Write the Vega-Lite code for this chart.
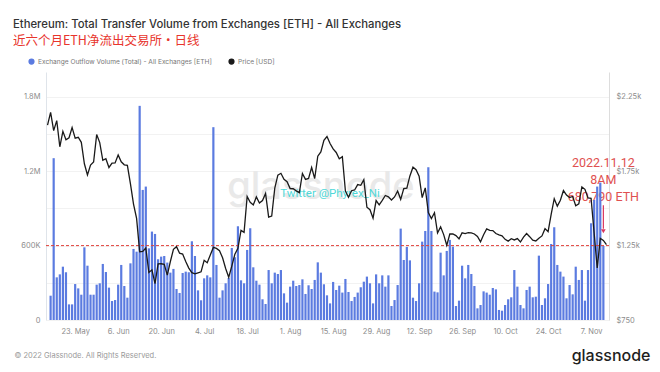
{
  "$schema": "https://vega.github.io/schema/vega-lite/v6.json",
  "width": 563,
  "height": 248,
  "autosize": {"type": "none"},
  "padding": {"left": 46, "top": 72, "right": 51, "bottom": 52},
  "background": "white",
  "config": {
    "view": {"stroke": null},
    "font": "Inter",
    "axis": {"labelFont": "Inter", "labelFontSize": 7.5, "labelColor": "#8c8c8c", "ticks": false, "gridColor": "#efefef", "gridWidth": 0.8, "domain": false},
    "legend": {"orient": "none", "legendX": -18, "legendY": -14, "direction": "horizontal", "symbolType": "circle", "symbolSize": 22, "labelFont": "Inter", "labelFontSize": 6.6, "labelColor": "#777777", "labelLimit": 0, "columnPadding": 14, "labelOffset": 3}
  },
  "title": {
    "text": "Ethereum: Total Transfer Volume from Exchanges [ETH] - All Exchanges",
    "subtitle": "近六个月ETH净流出交易所·日线",
    "anchor": "start",
    "frame": "group",
    "dx": -33,
    "offset": 11,
    "font": "Inter",
    "fontSize": 11.3,
    "fontWeight": 500,
    "color": "#333333",
    "subtitleFont": "Noto Sans CJK SC",
    "subtitleFontSize": 12.5,
    "subtitleColor": "#e8342c",
    "subtitlePadding": 4
  },
  "datasets": {
    "main": [
      {"d":"2022-05-14","p":2059},
      {"d":"2022-05-15","p":2145,"v":196000},
      {"d":"2022-05-16","p":2023,"v":1305000},
      {"d":"2022-05-17","p":2090,"v":344000},
      {"d":"2022-05-18","p":1914,"v":368000},
      {"d":"2022-05-19","p":2018,"v":430000},
      {"d":"2022-05-20","p":1961,"v":385000},
      {"d":"2022-05-21","p":1975,"v":126000},
      {"d":"2022-05-22","p":2043,"v":126000},
      {"d":"2022-05-23","p":1972,"v":290000},
      {"d":"2022-05-24","p":1978,"v":255000},
      {"d":"2022-05-25","p":1944,"v":204000},
      {"d":"2022-05-26","p":1800,"v":586000},
      {"d":"2022-05-27","p":1725,"v":438000},
      {"d":"2022-05-28","p":1791,"v":204000},
      {"d":"2022-05-29","p":1812,"v":204000},
      {"d":"2022-05-30","p":1996,"v":285000},
      {"d":"2022-05-31","p":1942,"v":296000},
      {"d":"2022-06-01","p":1823,"v":452000},
      {"d":"2022-06-02","p":1834,"v":387000},
      {"d":"2022-06-03","p":1775,"v":261000},
      {"d":"2022-06-04","p":1805,"v":153000},
      {"d":"2022-06-05","p":1806,"v":161000},
      {"d":"2022-06-06","p":1859,"v":285000},
      {"d":"2022-06-07","p":1813,"v":444000},
      {"d":"2022-06-08","p":1793,"v":274000},
      {"d":"2022-06-09","p":1789,"v":180000},
      {"d":"2022-06-10","p":1665,"v":457000},
      {"d":"2022-06-11","p":1529,"v":573000},
      {"d":"2022-06-12","p":1433,"v":551000},
      {"d":"2022-06-13","p":1208,"v":1727000},
      {"d":"2022-06-14","p":1211,"v":1049000},
      {"d":"2022-06-15","p":1234,"v":1076000},
      {"d":"2022-06-16","p":1070,"v":578000},
      {"d":"2022-06-17","p":1087,"v":713000},
      {"d":"2022-06-18","p":995,"v":694000},
      {"d":"2022-06-19","p":1127,"v":490000},
      {"d":"2022-06-20","p":1128,"v":511000},
      {"d":"2022-06-21","p":1124,"v":516000},
      {"d":"2022-06-22","p":1052,"v":463000},
      {"d":"2022-06-23","p":1143,"v":382000},
      {"d":"2022-06-24","p":1225,"v":412000},
      {"d":"2022-06-25","p":1243,"v":250000},
      {"d":"2022-06-26","p":1199,"v":218000},
      {"d":"2022-06-27","p":1193,"v":379000},
      {"d":"2022-06-28","p":1143,"v":390000},
      {"d":"2022-06-29","p":1099,"v":385000},
      {"d":"2022-06-30","p":1068,"v":635000},
      {"d":"2022-07-01","p":1060,"v":516000},
      {"d":"2022-07-02","p":1067,"v":239000},
      {"d":"2022-07-03","p":1074,"v":159000},
      {"d":"2022-07-04","p":1151,"v":336000},
      {"d":"2022-07-05","p":1135,"v":360000},
      {"d":"2022-07-06","p":1187,"v":344000},
      {"d":"2022-07-07","p":1238,"v":1555000},
      {"d":"2022-07-08","p":1231,"v":444000},
      {"d":"2022-07-09","p":1216,"v":180000},
      {"d":"2022-07-10","p":1168,"v":239000},
      {"d":"2022-07-11","p":1096,"v":296000},
      {"d":"2022-07-12","p":1037,"v":339000},
      {"d":"2022-07-13","p":1112,"v":581000},
      {"d":"2022-07-14","p":1192,"v":506000},
      {"d":"2022-07-15","p":1232,"v":756000},
      {"d":"2022-07-16","p":1352,"v":320000},
      {"d":"2022-07-17","p":1339,"v":296000},
      {"d":"2022-07-18","p":1580,"v":565000},
      {"d":"2022-07-19","p":1541,"v":740000},
      {"d":"2022-07-20","p":1523,"v":425000},
      {"d":"2022-07-21","p":1577,"v":317000},
      {"d":"2022-07-22","p":1536,"v":285000},
      {"d":"2022-07-23","p":1553,"v":167000},
      {"d":"2022-07-24","p":1600,"v":129000},
      {"d":"2022-07-25","p":1441,"v":403000},
      {"d":"2022-07-26","p":1449,"v":296000},
      {"d":"2022-07-27","p":1636,"v":382000},
      {"d":"2022-07-28","p":1724,"v":371000},
      {"d":"2022-07-29","p":1736,"v":403000},
      {"d":"2022-07-30","p":1696,"v":215000},
      {"d":"2022-07-31","p":1680,"v":140000},
      {"d":"2022-08-01","p":1633,"v":269000},
      {"d":"2022-08-02","p":1632,"v":317000},
      {"d":"2022-08-03","p":1618,"v":274000},
      {"d":"2022-08-04","p":1606,"v":282000},
      {"d":"2022-08-05","p":1735,"v":328000},
      {"d":"2022-08-06","p":1695,"v":210000},
      {"d":"2022-08-07","p":1701,"v":280000},
      {"d":"2022-08-08","p":1775,"v":250000},
      {"d":"2022-08-09","p":1701,"v":323000},
      {"d":"2022-08-10","p":1851,"v":465000},
      {"d":"2022-08-11","p":1880,"v":382000},
      {"d":"2022-08-12","p":1958,"v":288000},
      {"d":"2022-08-13","p":1983,"v":199000},
      {"d":"2022-08-14","p":1936,"v":134000},
      {"d":"2022-08-15","p":1900,"v":307000},
      {"d":"2022-08-16","p":1876,"v":242000},
      {"d":"2022-08-17","p":1834,"v":277000},
      {"d":"2022-08-18","p":1848,"v":221000},
      {"d":"2022-08-19","p":1617,"v":331000},
      {"d":"2022-08-20","p":1575,"v":226000},
      {"d":"2022-08-21","p":1619,"v":153000},
      {"d":"2022-08-22","p":1624,"v":186000},
      {"d":"2022-08-23","p":1660,"v":221000},
      {"d":"2022-08-24","p":1655,"v":264000},
      {"d":"2022-08-25","p":1693,"v":309000},
      {"d":"2022-08-26","p":1508,"v":350000},
      {"d":"2022-08-27","p":1491,"v":296000},
      {"d":"2022-08-28","p":1434,"v":134000},
      {"d":"2022-08-29","p":1553,"v":368000},
      {"d":"2022-08-30","p":1524,"v":296000},
      {"d":"2022-08-31","p":1554,"v":360000},
      {"d":"2022-09-01","p":1587,"v":269000},
      {"d":"2022-09-02","p":1578,"v":360000},
      {"d":"2022-09-03","p":1556,"v":113000},
      {"d":"2022-09-04","p":1577,"v":161000},
      {"d":"2022-09-05","p":1617,"v":282000},
      {"d":"2022-09-06","p":1561,"v":737000},
      {"d":"2022-09-07","p":1633,"v":484000},
      {"d":"2022-09-08","p":1636,"v":589000},
      {"d":"2022-09-09","p":1718,"v":481000},
      {"d":"2022-09-10","p":1777,"v":180000},
      {"d":"2022-09-11","p":1760,"v":153000},
      {"d":"2022-09-12","p":1717,"v":296000},
      {"d":"2022-09-13","p":1573,"v":632000},
      {"d":"2022-09-14","p":1638,"v":718000},
      {"d":"2022-09-15","p":1472,"v":1232000},
      {"d":"2022-09-16","p":1432,"v":718000},
      {"d":"2022-09-17","p":1471,"v":229000},
      {"d":"2022-09-18","p":1335,"v":223000},
      {"d":"2022-09-19","p":1376,"v":543000},
      {"d":"2022-09-20","p":1324,"v":360000},
      {"d":"2022-09-21","p":1252,"v":557000},
      {"d":"2022-09-22","p":1328,"v":646000},
      {"d":"2022-09-23","p":1328,"v":592000},
      {"d":"2022-09-24","p":1317,"v":113000},
      {"d":"2022-09-25","p":1295,"v":156000},
      {"d":"2022-09-26","p":1336,"v":438000},
      {"d":"2022-09-27","p":1331,"v":336000},
      {"d":"2022-09-28","p":1337,"v":444000},
      {"d":"2022-09-29","p":1335,"v":371000},
      {"d":"2022-09-30","p":1328,"v":274000},
      {"d":"2022-10-01","p":1311,"v":94000},
      {"d":"2022-10-02","p":1276,"v":121000},
      {"d":"2022-10-03","p":1323,"v":231000},
      {"d":"2022-10-04","p":1362,"v":221000},
      {"d":"2022-10-05","p":1352,"v":204000},
      {"d":"2022-10-06","p":1351,"v":258000},
      {"d":"2022-10-07","p":1331,"v":247000},
      {"d":"2022-10-08","p":1322,"v":81000},
      {"d":"2022-10-09","p":1315,"v":75000},
      {"d":"2022-10-10","p":1292,"v":121000},
      {"d":"2022-10-11","p":1280,"v":167000},
      {"d":"2022-10-12","p":1296,"v":183000},
      {"d":"2022-10-13","p":1288,"v":403000},
      {"d":"2022-10-14","p":1297,"v":269000},
      {"d":"2022-10-15","p":1274,"v":121000},
      {"d":"2022-10-16","p":1307,"v":94000},
      {"d":"2022-10-17","p":1331,"v":242000},
      {"d":"2022-10-18","p":1310,"v":269000},
      {"d":"2022-10-19","p":1286,"v":183000},
      {"d":"2022-10-20","p":1281,"v":188000},
      {"d":"2022-10-21","p":1300,"v":519000},
      {"d":"2022-10-22","p":1315,"v":121000},
      {"d":"2022-10-23","p":1364,"v":175000},
      {"d":"2022-10-24","p":1344,"v":290000},
      {"d":"2022-10-25","p":1460,"v":613000},
      {"d":"2022-10-26","p":1565,"v":748000},
      {"d":"2022-10-27","p":1515,"v":444000},
      {"d":"2022-10-28","p":1555,"v":390000},
      {"d":"2022-10-29","p":1620,"v":350000},
      {"d":"2022-10-30","p":1590,"v":175000},
      {"d":"2022-10-31","p":1573,"v":282000},
      {"d":"2022-11-01","p":1580,"v":207000},
      {"d":"2022-11-02","p":1518,"v":430000},
      {"d":"2022-11-03","p":1531,"v":323000},
      {"d":"2022-11-04","p":1644,"v":403000},
      {"d":"2022-11-05","p":1628,"v":156000},
      {"d":"2022-11-06","p":1570,"v":403000},
      {"d":"2022-11-07","p":1567,"v":780000},
      {"d":"2022-11-08","p":1333,"v":968000},
      {"d":"2022-11-09","p":1100,"v":1076000},
      {"d":"2022-11-10","p":1299,"v":1108000},
      {"d":"2022-11-11","p":1285,"v":597000},
      {"d":"2022-11-12","p":1257}
    ],
    "marks": [
      {"d":"2022-08-11","v":1065000,"t":"glassnode"}
    ],
    "twitter": [
      {"d":"2022-08-14","v":1017000,"t":"Twitter @Phyrex_Ni"}
    ],
    "notes": [
      {"d":"2022-11-11","v":1266000,"t":"2022.11.12"},
      {"d":"2022-11-11","v":1129000,"t":"8AM"},
      {"d":"2022-11-11","v":992000,"t":"680,790 ETH"}
    ],
    "arrow": [
      {"d":"2022-11-11","v":925000,"v2":735000,"h":715000}
    ],
    "threshold": [
      {"d":"2022-05-13T12:00:00Z","d2":"2022-11-12T20:00:00Z","v":600000}
    ]
  },
  "data": {"name": "main"},
  "encoding": {
    "x": {
      "field": "d",
      "type": "temporal",
      "scale": {"type": "utc", "padding": 0, "domain": [{"year":2022,"month":5,"date":13,"hours":12,"utc":true},{"year":2022,"month":11,"date":12,"hours":20,"utc":true}]},
      "axis": {
        "values": [
          {"year":2022,"month":5,"date":23,"utc":true},
          {"year":2022,"month":6,"date":6,"utc":true},
          {"year":2022,"month":6,"date":20,"utc":true},
          {"year":2022,"month":7,"date":4,"utc":true},
          {"year":2022,"month":7,"date":18,"utc":true},
          {"year":2022,"month":8,"date":1,"utc":true},
          {"year":2022,"month":8,"date":15,"utc":true},
          {"year":2022,"month":8,"date":29,"utc":true},
          {"year":2022,"month":9,"date":12,"utc":true},
          {"year":2022,"month":9,"date":26,"utc":true},
          {"year":2022,"month":10,"date":10,"utc":true},
          {"year":2022,"month":10,"date":24,"utc":true},
          {"year":2022,"month":11,"date":7,"utc":true}
        ],
        "format": "%-d. %b",
        "grid": false,
        "labelPadding": 7,
        "title": "© 2022 Glassnode. All Rights Reserved.",
        "titleX": -32,
        "titleY": 35,
        "titleAlign": "left",
        "titleBaseline": "middle",
        "titleFont": "Inter",
        "titleFontSize": 7.5,
        "titleFontWeight": "normal",
        "titleColor": "#9a9a9a"
      }
    }
  },
  "layer": [
    {
      "encoding": {
        "y": {
          "field": "v",
          "type": "quantitative",
          "scale": {"domain": [0, 2000000], "nice": false, "zero": true},
          "axis": {
            "title": null,
            "values": [0, 300000, 600000, 900000, 1200000, 1500000, 1800000],
            "labelExpr": "datum.value == 0 ? '0' : datum.value == 600000 ? '600K' : datum.value == 1200000 ? '1.2M' : datum.value == 1800000 ? '1.8M' : ''",
            "grid": true,
            "domain": true,
            "domainColor": "#dfe4ea",
            "labelPadding": 6
          }
        }
      },
      "layer": [
        {
          "data": {"name": "marks"},
          "mark": {"type": "text", "font": "Inter", "fontSize": 38, "fontWeight": 500, "color": "#e9e9e9", "baseline": "middle", "align": "center"},
          "encoding": {"text": {"field": "t"}}
        },
        {
          "data": {"name": "twitter"},
          "mark": {"type": "text", "font": "Roboto", "fontSize": 11.5, "color": "#4fd8d8", "baseline": "middle", "align": "center"},
          "encoding": {"text": {"field": "t"}}
        },
        {
          "data": {"name": "notes"},
          "mark": {"type": "text", "font": "Roboto", "fontSize": 12.5, "color": "#e05050", "baseline": "middle", "align": "center"},
          "encoding": {"text": {"field": "t"}}
        },
        {
          "mark": {"type": "bar", "size": 2.2},
          "encoding": {
            "color": {
              "datum": "Exchange Outflow Volume (Total) - All Exchanges [ETH]",
              "scale": {"domain": ["Exchange Outflow Volume (Total) - All Exchanges [ETH]", "Price [USD]"], "range": ["#5b7be0", "#1a1a1a"]},
              "legend": {"title": null}
            }
          }
        },
        {
          "data": {"name": "threshold"},
          "mark": {"type": "rule", "color": "#e0403a", "strokeDash": [3, 2], "strokeWidth": 1},
          "encoding": {"x2": {"field": "d2"}}
        },
        {
          "data": {"name": "arrow"},
          "mark": {"type": "rule", "color": "#d9365e", "strokeWidth": 1.2},
          "encoding": {"y2": {"field": "v2"}}
        },
        {
          "data": {"name": "arrow"},
          "mark": {"type": "point", "shape": "triangle-down", "filled": true, "size": 22, "color": "#d9365e", "opacity": 1},
          "encoding": {"y": {"field": "h", "type": "quantitative"}}
        }
      ]
    },
    {
      "mark": {"type": "line", "strokeWidth": 1.3},
      "encoding": {
        "y": {
          "field": "p",
          "type": "quantitative",
          "scale": {"domain": [750, 2416.67], "nice": false, "zero": false},
          "axis": {
            "orient": "right",
            "values": [750, 1250, 1750, 2250],
            "labelExpr": "datum.value == 750 ? '$750' : '$' + format(datum.value / 1000, '.2f') + 'k'",
            "grid": false,
            "domain": true,
            "domainColor": "#dddddd",
            "labelPadding": 7,
            "title": "glassnode",
            "titleAngle": 0,
            "titleX": 41,
            "titleY": 283,
            "titleAlign": "right",
            "titleBaseline": "middle",
            "titleFont": "Inter",
            "titleFontSize": 16,
            "titleFontWeight": 500,
            "titleColor": "#1e1e1e"
          }
        },
        "color": {"datum": "Price [USD]"}
      }
    }
  ],
  "resolve": {"scale": {"y": "independent"}}
}
